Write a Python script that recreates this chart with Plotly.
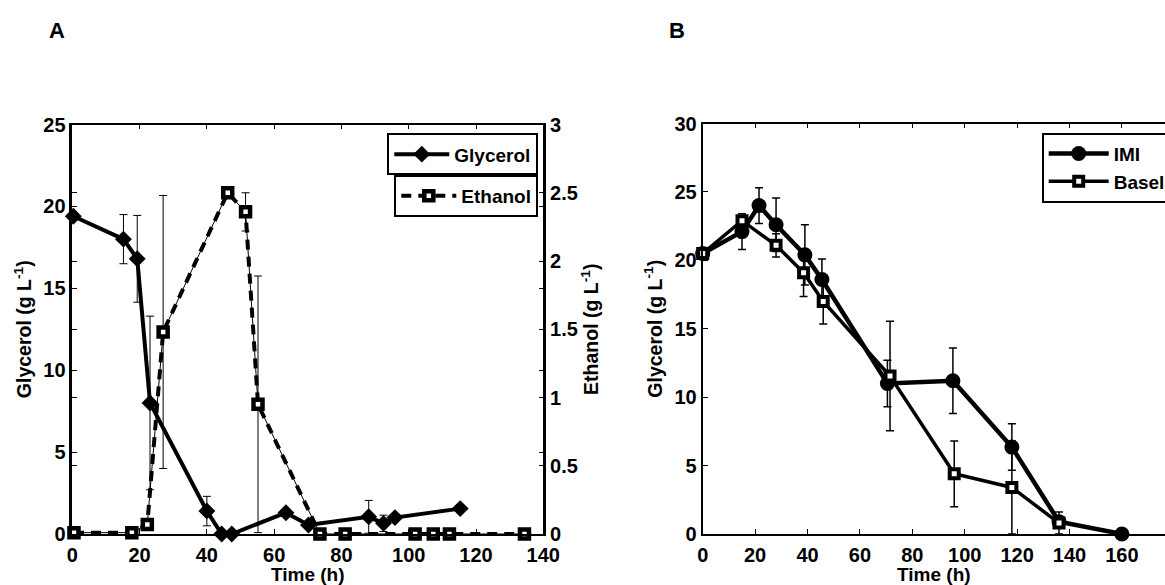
import plotly.graph_objects as go

# ---------------- Panel A data ----------------
gly_t = [0.3, 15.2, 19.3, 23.1, 40.0, 44.4, 47.4, 63.5, 70.2, 88.1, 92.5, 95.9, 115.3]
gly_v = [19.4, 18.0, 16.8, 8.0, 1.4, 0.0, 0.0, 1.3, 0.55, 1.05, 0.65, 1.0, 1.55]
gly_e = [0, 1.5, 2.65, 5.3, 0.9, 0, 0, 0, 0, 1.0, 0.5, 0, 0]

eth_t = [0.5, 17.7, 22.3, 27.0, 46.2, 51.5, 55.2, 73.6, 81.1, 101.9, 107.3, 112.1, 134.4]
eth_v = [0.01, 0.01, 0.07, 1.48, 2.50, 2.36, 0.95, 0.0, 0.0, 0.0, 0.0, 0.0, 0.0]
eth_e = [0, 0, 0, 1.0, 0, 0.14, 0.94, 0, 0, 0, 0, 0, 0]

# ---------------- Panel B data ----------------
imi_t = [0, 15, 21.5, 28, 39, 45.5, 70.5, 95.5, 118, 136, 160]
imi_v = [20.5, 22.1, 24.0, 22.6, 20.4, 18.6, 11.0, 11.2, 6.35, 0.9, 0.0]
imi_e = [0, 1.3, 1.3, 1.95, 2.2, 1.5, 1.7, 2.4, 1.7, 0.3, 0]

basel_t = [0, 15, 28, 38.5, 46, 71.5, 96, 118, 136]
basel_v = [20.5, 22.9, 21.1, 19.1, 17.0, 11.55, 4.4, 3.4, 0.8]
basel_e = [0, 0.3, 0.85, 1.75, 1.66, 4.0, 2.4, 3.4, 0.8]

xticks_a = [0, 20, 40, 60, 80, 100, 120, 140]
yticks_a = [0, 5, 10, 15, 20, 25]
yticks_a2 = [0, 0.5, 1, 1.5, 2, 2.5, 3]
xticks_b = [0, 20, 40, 60, 80, 100, 120, 140, 160, 180]
yticks_b = [0, 5, 10, 15, 20, 25, 30]

W, H = 1165, 585
FONT = "Liberation Sans, Arial, Helvetica, sans-serif"
BLACK = "black"

def px_x(p):
    return p / W

def px_y(p):
    return 1 - p / H

fig = go.Figure()

# Glycerol (left axis)
fig.add_trace(go.Scatter(
    x=gly_t, y=gly_v, mode="lines+markers", name="Glycerol",
    xaxis="x", yaxis="y", legend="legend", cliponaxis=False,
    line=dict(color=BLACK, width=4),
    marker=dict(symbol="diamond", size=13, color=BLACK),
    error_y=dict(type="data", array=gly_e, visible=True, color=BLACK, thickness=1, width=4),
))
# Ethanol thin line + error bars
fig.add_trace(go.Scatter(
    x=eth_t, y=eth_v, mode="lines", showlegend=False,
    xaxis="x", yaxis="y2", cliponaxis=False,
    line=dict(color=BLACK, width=1),
    error_y=dict(type="data", array=eth_e, visible=True, color=BLACK, thickness=1, width=4),
))
# Ethanol dashed line + markers
fig.add_trace(go.Scatter(
    x=eth_t, y=eth_v, mode="lines+markers", name="Ethanol",
    xaxis="x", yaxis="y2", legend="legend2", cliponaxis=False,
    line=dict(color=BLACK, width=4, dash="10px,7px"),
    marker=dict(symbol="square", size=9, color="white", line=dict(color=BLACK, width=4.5)),
))

# Panel B
fig.add_trace(go.Scatter(
    x=imi_t, y=imi_v, mode="lines+markers", name="IMI",
    xaxis="x2", yaxis="y3", legend="legend3", cliponaxis=False,
    line=dict(color=BLACK, width=4.5),
    marker=dict(symbol="circle", size=15, color=BLACK),
    error_y=dict(type="data", array=imi_e, visible=True, color=BLACK, thickness=1.5, width=4),
))
fig.add_trace(go.Scatter(
    x=basel_t, y=basel_v, mode="lines+markers", name="Basel",
    xaxis="x2", yaxis="y3", legend="legend3", cliponaxis=False,
    line=dict(color=BLACK, width=3.5),
    marker=dict(symbol="square", size=9, color="white", line=dict(color=BLACK, width=4)),
    error_y=dict(type="data", array=basel_e, visible=True, color=BLACK, thickness=1.5, width=4),
))

tickfont = dict(family=FONT, size=20, color=BLACK, weight="bold")
titlefont = dict(family=FONT, size=19.5, color=BLACK, weight="bold")
xtitlefont = dict(family=FONT, size=19, color=BLACK, weight="bold")
legfont = dict(family=FONT, size=19, color=BLACK, weight="bold")

yA_top = px_y(124.5)
y_bot = px_y(534)
yB_top = px_y(123.5)

common_x = dict(showline=True, linecolor=BLACK, linewidth=1.5, ticks="inside", ticklen=5,
                tickcolor=BLACK, tickwidth=1, showgrid=False, zeroline=False,
                tickfont=tickfont, ticklabelstandoff=2)
common_y = dict(showline=True, linecolor=BLACK, ticks="inside", ticklen=5,
                tickcolor=BLACK, tickwidth=1, showgrid=False, zeroline=False,
                tickfont=tickfont)

fig.update_layout(
    width=W, height=H,
    margin=dict(l=0, r=0, t=0, b=0, autoexpand=False),
    paper_bgcolor="white", plot_bgcolor="white",
    font=dict(family=FONT, color=BLACK),
    xaxis=dict(domain=[px_x(72.3), px_x(543.3)], range=[0, 140], tickvals=xticks_a,
               anchor="y", mirror="ticks",
               title=dict(text="Time (h)", font=xtitlefont, standoff=3), **common_x),
    yaxis=dict(domain=[y_bot, yA_top], range=[0, 25], tickvals=yticks_a, anchor="x",
               mirror="ticks", linewidth=2.5,
               title=dict(text="Glycerol (g L<sup>-1</sup>)", font=titlefont, standoff=7),
               **common_y),
    yaxis2=dict(range=[0, 3], tickvals=yticks_a2, overlaying="y", side="right", anchor="x",
                mirror="ticks", linewidth=2.5,
                title=dict(text="Ethanol (g L<sup>-1</sup>)", font=titlefont, standoff=7),
                **common_y),
    xaxis2=dict(domain=[px_x(702.7), 1.0], range=[0, (1165 - 702.7) / 2.62], tickvals=xticks_b,
                anchor="y3", mirror="ticks",
                title=dict(text="Time (h)", font=xtitlefont, standoff=3), **common_x),
    yaxis3=dict(domain=[y_bot, yB_top], range=[0, 30], tickvals=yticks_b, anchor="x2",
                mirror=False, linewidth=2,
                title=dict(text="Glycerol (g L<sup>-1</sup>)", font=titlefont, standoff=7),
                **common_y),
    legend=dict(x=px_x(538.3), xanchor="right", y=px_y(133.3), yanchor="top",
                bgcolor="white", bordercolor=BLACK, borderwidth=2, itemwidth=55,
                font=legfont),
    legend2=dict(x=px_x(538.3), xanchor="right", y=px_y(175), yanchor="top",
                 bgcolor="white", bordercolor=BLACK, borderwidth=2, itemwidth=55,
                 font=legfont),
    legend3=dict(x=px_x(1041.7), xanchor="left", y=px_y(132.7), yanchor="top",
                 bgcolor="white", bordercolor=BLACK, borderwidth=2, itemwidth=60,
                 tracegroupgap=0, font=legfont),
    annotations=[
        dict(text="A", x=px_x(57), y=px_y(30), xref="paper", yref="paper", showarrow=False,
             xanchor="center", yanchor="middle",
             font=dict(family=FONT, size=22, color=BLACK, weight="bold")),
        dict(text="B", x=px_x(677), y=px_y(30), xref="paper", yref="paper", showarrow=False,
             xanchor="center", yanchor="middle",
             font=dict(family=FONT, size=22, color=BLACK, weight="bold")),
    ],
    showlegend=True,
)

fig.write_html("out.html")
